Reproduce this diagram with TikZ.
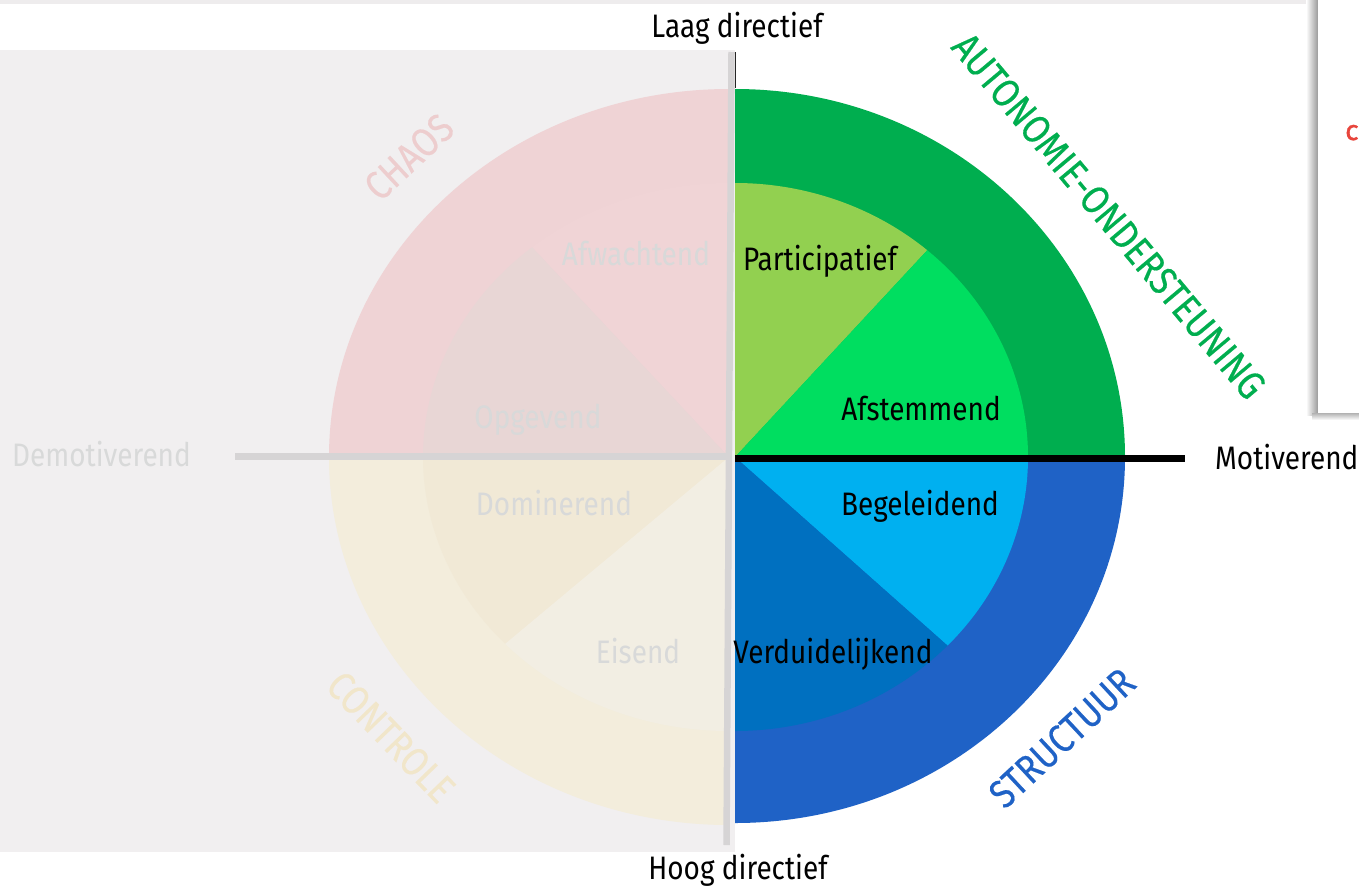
\documentclass[tikz,border=0pt]{standalone}
\usepackage{fontspec}
\setmainfont{Fira Sans}[FakeStretch=0.86]
\newfontfamily\titlefont{Fira Sans}[FakeStretch=0.86, FakeBold=0.4]
\newfontfamily\redfont{Fira Sans}[FakeBold=1.2]
\definecolor{panel}{HTML}{F1EFF0}
\definecolor{topstrip}{HTML}{EEECED}
\definecolor{axisgray}{HTML}{D6D4D5}
\definecolor{fadetext}{HTML}{D8D9D9}
\definecolor{pinkring}{HTML}{EFD3D5}
\definecolor{pinkafw}{HTML}{F0D4D6}
\definecolor{pinkin}{HTML}{E8D6D5}
\definecolor{beigering}{HTML}{F3EDDC}
\definecolor{beigedom}{HTML}{F1E9D6}
\definecolor{beigeeis}{HTML}{F2EEE3}
\definecolor{darkgreen}{HTML}{00AE4F}
\definecolor{lightgreen}{HTML}{92D050}
\definecolor{brightgreen}{HTML}{00DE60}
\definecolor{ringblue}{HTML}{1F62C6}
\definecolor{lightblue}{HTML}{00B0F0}
\definecolor{darkblue}{HTML}{0070C0}
\definecolor{chaostext}{HTML}{EDCDCE}
\definecolor{controletext}{HTML}{F1E6CA}
\definecolor{autgreen}{HTML}{00AE4F}
\definecolor{redc}{HTML}{E8453C}
\begin{document}
\begin{tikzpicture}[x=1pt,y=-1pt,
  lbl/.style={font=\fontsize{32.5}{36}\selectfont, inner sep=0pt, anchor=base},
  fadelbl/.style={lbl, text=fadetext},
  biglbl/.style={font=\titlefont\fontsize{40}{44}\selectfont, inner sep=0pt, anchor=center}]
\useasboundingbox (0,0) rectangle (1359,887);
\fill[white] (0,0) rectangle (1359,887);
\fill[topstrip] (0,0) rectangle (1310,4);
\fill[panel] (0,50) rectangle (735,852);
% side box
\shade[left color=white, right color=black!40] (1306,0) rectangle (1318,415);
\shade[top color=black!30, bottom color=white] (1312,413) rectangle (1359,420);
\fill[white] (1318,0) rectangle (1359,413);
\node[font=\redfont\fontsize{28}{30}\selectfont, text=redc, inner sep=0pt, anchor=base west] (cc) at (1345,140) {c};

% left half
\coordinate (CL) at (729,457);
\fill[pinkring] (CL) -- ++(-400,0) arc[start angle=180,end angle=270,x radius=400,y radius=368] -- cycle;
\fill[beigering] (CL) -- ++(0,368) arc[start angle=90,end angle=180,x radius=400,y radius=368] -- cycle;
\fill[pinkin] (CL) -- ++(-306,0) arc[start angle=180,end angle=230,x radius=306,y radius=274] -- cycle;
\fill[pinkafw] (CL) -- ++(230:306 and 274) arc[start angle=230,end angle=270,x radius=306,y radius=274] -- cycle;
\fill[beigedom] (CL) -- ++(-306,0) arc[start angle=180,end angle=137,x radius=306,y radius=274] -- cycle;
\fill[beigeeis] (CL) -- ++(137:306 and 274) arc[start angle=137,end angle=90,x radius=306,y radius=274] -- cycle;

% right half
\coordinate (CR) at (735,457);
\fill[darkgreen] (CR) -- ++(0,-368) arc[start angle=270,end angle=360,x radius=390,y radius=368] -- cycle;
\fill[ringblue] (CR) -- ++(390,0) arc[start angle=0,end angle=90,x radius=390,y radius=366] -- cycle;
\fill[lightgreen] (CR) -- ++(0,-274) arc[start angle=270,end angle=311,x radius=293,y radius=274] -- cycle;
\fill[brightgreen] (CR) -- ++(311:293 and 274) arc[start angle=311,end angle=360,x radius=293,y radius=274] -- cycle;
\fill[lightblue] (CR) -- ++(293,0) arc[start angle=0,end angle=43.5,x radius=293,y radius=274] -- cycle;
\fill[darkblue] (CR) -- ++(43.5:293 and 274) arc[start angle=43.5,end angle=90,x radius=293,y radius=274] -- cycle;

% axes
\coordinate (vtop) at (731.5,52);
\coordinate (vbot) at (726.5,845);
\coordinate (hleft) at (235,456.5);
\coordinate (hmid) at (729,456.5);
\coordinate (bstart) at (735,458.5);
\coordinate (bend) at (1185,458.5);
\coordinate (ttop) at (735.3,52);
\coordinate (tbot) at (735.3,88);
\draw[axisgray, line width=6.5pt] (hleft) -- (hmid);
\draw[axisgray, line width=6.5pt] (vtop) -- (vbot);
\draw[black!85, line width=1pt] (ttop) -- (tbot);
\draw[black, line width=6.5pt] (bstart) -- (bend);

% axis labels
\node[lbl] (laag) at (737,37) {Laag directief};
\node[lbl] (hoog) at (738,879) {Hoog directief};
\node[lbl, anchor=base west] (mot) at (1215,469) {Motiverend};
\node[fadelbl, anchor=base west] (demot) at (12,466) {Demotiverend};

% right labels
\node[lbl] (part) at (820,270) {Participatief};
\node[lbl] (afst) at (921,420) {Afstemmend};
\node[lbl] (beg) at (920,515) {Begeleidend};
\node[lbl] (verd) at (833,663) {Verduidelijkend};

% left labels
\node[fadelbl] (afw) at (636,265) {Afwachtend};
\node[fadelbl] (opg) at (538,428) {Opgevend};
\node[fadelbl] (dom) at (554,515) {Dominerend};
\node[fadelbl] (eis) at (638,663) {Eisend};

% quadrant titles
\node[biglbl, text=chaostext, rotate=43] (chaos) at (409,157) {CHAOS};
\node[biglbl, text=controletext, rotate=-46] (contr) at (391,737) {CONTROLE};
\node[biglbl, text=autgreen, rotate=-50] (auto) at (1109,216) {AUTONOMIE-ONDERSTEUNING};
\node[biglbl, text=ringblue, rotate=43] (struct) at (1062,738) {STRUCTUUR};
\end{tikzpicture}
\end{document}
